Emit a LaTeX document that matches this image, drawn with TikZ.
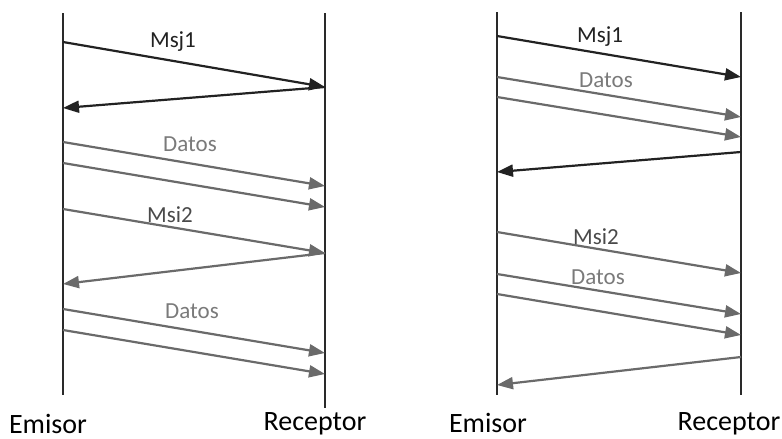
\documentclass[tikz,border=0pt]{standalone}
\usepackage{fontspec}
\setmainfont{Carlito}
\usetikzlibrary{arrows.meta}
\definecolor{lifeline}{HTML}{2A2A2A}
\definecolor{blk}{HTML}{222222}
\definecolor{gry}{HTML}{6A6A6A}
\definecolor{lblgry}{HTML}{7A7A7A}
\definecolor{lbldark}{HTML}{4A4A4A}
\begin{document}
\begin{tikzpicture}[x=1pt,y=-1pt,
  life/.style={draw=lifeline,line width=2.2pt},
  msgblack/.style={draw=blk,line width=2.2pt,-{Triangle[length=16pt,width=12pt]}},
  msggray/.style={draw=gry,line width=2.2pt,-{Triangle[length=16pt,width=12pt]}},
  actor/.style={font=\fontsize{28}{32}\selectfont,text=black},
  lbl/.style={font=\fontsize{23}{27}\selectfont,inner sep=0pt},
]
\useasboundingbox (0,0) rectangle (782,439);
% ---------------- left diagram ----------------
\coordinate (LAt) at (63,13); \coordinate (LAb) at (63,395);
\coordinate (LBt) at (325,13); \coordinate (LBb) at (325,408);
\draw[life] (LAt) -- (LAb);
\draw[life] (LBt) -- (LBb);
\node[actor] (lemisor) at (48,424) {Emisor};
\node[actor] (lreceptor) at (315,424) {Receptor};

\coordinate (l1a) at (63,42);  \coordinate (l1b) at (325,87);
\coordinate (l2a) at (325,87); \coordinate (l2b) at (63,108);
\coordinate (l3a) at (63,142); \coordinate (l3b) at (325,186);
\coordinate (l4a) at (63,163); \coordinate (l4b) at (325,207);
\coordinate (l5a) at (63,209); \coordinate (l5b) at (325,253);
\coordinate (l6a) at (325,253);\coordinate (l6b) at (63,284);
\coordinate (l7a) at (63,309); \coordinate (l7b) at (325,353);
\coordinate (l8a) at (63,330); \coordinate (l8b) at (325,374);
\draw[msgblack] (l1a) -- (l1b);
\draw[msgblack] (l2a) -- (l2b);
\draw[msggray] (l3a) -- (l3b);
\draw[msggray] (l4a) -- (l4b);
\draw[msggray] (l5a) -- (l5b);
\draw[msggray] (l6a) -- (l6b);
\draw[msggray] (l7a) -- (l7b);
\draw[msggray] (l8a) -- (l8b);
\node[lbl,text=blk] (lmsj1) at (173,42) {Msj1};
\node[lbl,text=lblgry] (ldatos1) at (190,144) {Datos};
\node[lbl,text=lbldark] (lmsi2) at (170,215) {Msi2};
\node[lbl,text=lblgry] (ldatos2) at (192,311) {Datos};

% ---------------- right diagram ----------------
\coordinate (RAt) at (497,12); \coordinate (RAb) at (497,395);
\coordinate (RBt) at (741,12); \coordinate (RBb) at (741,395);
\draw[life] (RAt) -- (RAb);
\draw[life] (RBt) -- (RBb);
\node[actor] (remisor) at (488,423) {Emisor};
\node[actor] (rreceptor) at (729,424) {Receptor};

\coordinate (r1a) at (497,36);  \coordinate (r1b) at (741,77);
\coordinate (r2a) at (497,77);  \coordinate (r2b) at (741,117);
\coordinate (r3a) at (497,97);  \coordinate (r3b) at (741,137);
\coordinate (r4a) at (741,152); \coordinate (r4b) at (497,172);
\coordinate (r5a) at (497,232); \coordinate (r5b) at (741,273);
\coordinate (r6a) at (497,274); \coordinate (r6b) at (741,314);
\coordinate (r7a) at (497,294); \coordinate (r7b) at (741,335);
\coordinate (r8a) at (741,357); \coordinate (r8b) at (497,385);
\draw[msgblack] (r1a) -- (r1b);
\draw[msggray] (r2a) -- (r2b);
\draw[msggray] (r3a) -- (r3b);
\draw[msgblack] (r4a) -- (r4b);
\draw[msggray] (r5a) -- (r5b);
\draw[msggray] (r6a) -- (r6b);
\draw[msggray] (r7a) -- (r7b);
\draw[msggray] (r8a) -- (r8b);
\node[lbl,text=blk] (rmsj1) at (600,37) {Msj1};
\node[lbl,text=lblgry] (rdatos1) at (606,80) {Datos};
\node[lbl,text=lbldark] (rmsi2) at (596,237) {Msi2};
\node[lbl,text=lblgry] (rdatos2) at (598,277) {Datos};
\end{tikzpicture}
\end{document}
